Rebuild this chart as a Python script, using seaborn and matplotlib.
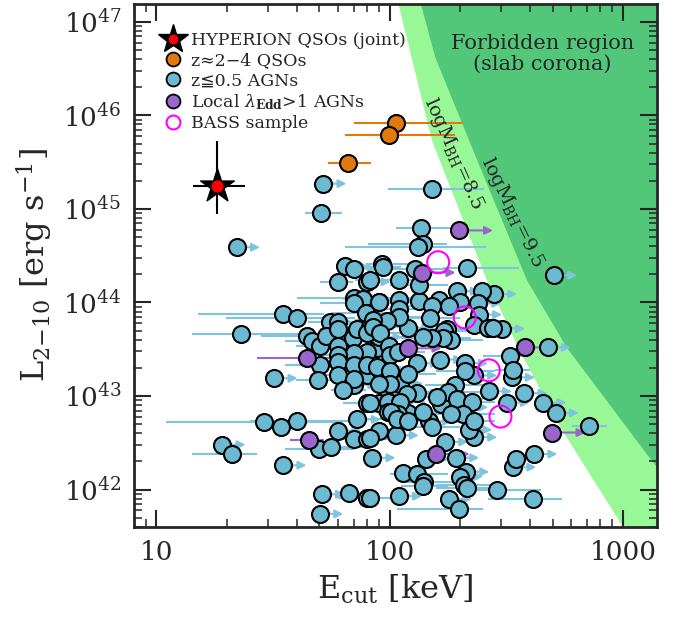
import matplotlib
matplotlib.use("Agg")
import numpy as np
import pandas as pd
import matplotlib.pyplot as plt
import seaborn as sns
from matplotlib.lines import Line2D
from matplotlib.ticker import FuncFormatter

# ---------------- data (log10 Ecut [keV], log10 L2-10 [erg/s]) ----------------
# z<=0.5 AGNs, Ecut lower limits
blue_lim_logE = [1.715, 1.344, 2.704, 1.808, 1.847, 1.904, 2.447, 1.505, 1.282, 1.543,
                 1.708, 1.825, 1.701, 1.862, 1.779, 1.925, 2.425, 2.577, 2.501, 2.658,
                 2.711, 2.025, 2.237, 2.155, 2.284, 2.619, 2.529, 2.039, 2.254, 2.677,
                 2.041, 1.955, 2.126, 2.287, 2.395, 2.379, 2.301, 2.382, 2.079, 2.361,
                 2.480, 2.322, 2.361, 2.115, 2.001, 2.222, 2.361, 2.327, 1.958, 1.744,
                 1.944, 1.843, 1.901, 1.904, 1.955, 1.847, 1.955, 1.904, 1.961, 2.215,
                 2.058, 2.115, 2.322, 2.340, 2.167, 2.044, 2.079, 1.847, 2.523, 2.541,
                 2.301]
blue_lim_logL = [45.27, 44.59, 44.29, 44.39, 44.36, 44.22, 44.09, 43.19, 42.48, 42.26,
                 41.95, 41.96, 41.74, 42.75, 42.63, 42.34, 43.05, 43.03, 42.93, 42.93,
                 42.82, 42.58, 42.51, 42.33, 42.34, 42.38, 42.24, 41.93, 41.90, 43.52,
                 44.24, 44.01, 44.02, 44.12, 44.12, 43.99, 44.00, 43.87, 43.73, 43.76,
                 43.72, 43.35, 43.22, 43.35, 42.93, 42.92, 42.56, 42.19, 43.28, 43.79,
                 43.51, 43.62, 43.32, 43.47, 43.63, 43.12, 42.63, 43.23, 43.14, 43.39,
                 42.18, 43.03, 42.88, 42.64, 42.73, 43.13, 42.82, 43.46, 43.20, 42.33,
                 42.14]

# z<=0.5 AGNs, measured Ecut with error range
blue_logE = [1.705, 2.181, 2.134, 2.141, 2.120, 1.779, 1.543, 1.601, 1.363, 1.462,
             1.604, 1.534, 1.325, 1.904, 2.330, 2.854, 2.458, 2.613, 2.298, 1.847,
             1.886, 1.847, 1.954, 1.897, 1.644, 1.665, 1.701, 1.725, 1.779, 1.779,
             1.858, 1.915, 1.901, 1.779, 1.779, 1.779, 1.701, 1.847, 1.904, 1.779,
             1.691, 1.847, 1.801, 1.961, 1.904, 1.955, 1.994, 1.994, 1.847, 1.904,
             1.698, 1.748, 1.965, 1.972, 2.108, 1.915, 2.126, 2.041, 2.212, 2.254,
             2.180, 2.041, 2.041, 1.987, 2.172, 1.929, 1.929, 1.958, 2.244, 2.232,
             2.265, 2.227, 2.180, 2.144, 2.422, 2.444, 1.998, 2.001, 2.037, 2.322,
             2.518, 2.527, 1.944, 2.001, 2.079, 2.001, 1.955, 2.279, 2.251, 2.201,
             2.075, 2.044, 1.915, 2.289, 2.351, 2.315, 2.265, 2.144, 2.036, 2.004,
             2.030, 2.079, 2.180, 2.361, 1.915, 2.115, 2.147, 2.144, 2.319, 2.330,
             1.915]
blue_logL = [44.96, 45.21, 44.80, 44.63, 44.59, 44.22, 43.88, 43.83, 43.66, 42.72,
             42.73, 42.67, 42.38, 41.91, 44.37, 42.68, 42.00, 41.90, 41.79, 44.05,
             44.04, 43.99, 44.01, 43.89, 43.64, 43.59, 43.53, 43.64, 43.79, 43.72,
             43.72, 43.74, 43.67, 43.53, 43.44, 43.36, 43.33, 43.33, 43.33, 43.23,
             43.17, 43.18, 43.06, 43.26, 42.93, 42.93, 42.94, 42.83, 42.54, 42.54,
             42.43, 42.45, 44.41, 44.38, 44.36, 44.24, 44.19, 44.03, 44.03, 43.96,
             43.96, 43.93, 43.85, 43.80, 43.83, 43.81, 43.74, 43.67, 43.72, 43.69,
             43.60, 43.62, 43.62, 43.63, 43.73, 43.73, 43.53, 43.44, 43.47, 43.27,
             43.43, 43.28, 43.31, 43.27, 43.24, 43.13, 43.13, 43.12, 43.04, 42.99,
             43.02, 42.94, 42.93, 42.97, 42.94, 42.81, 42.81, 42.83, 42.81, 42.83,
             42.75, 42.73, 42.67, 42.73, 42.55, 42.17, 42.08, 42.04, 42.05, 42.02,
             41.91]
blue_lo = [1.636, 1.994, 2.027, 1.908, 1.808, 1.701, 1.179, 1.300, 1.151, 1.043,
           1.400, 1.450, 1.151, 1.779, 2.230, 2.780, 2.300, 2.420, 2.030, 1.601,
           1.800, 1.701, 1.850, 1.750, 1.450, 1.550, 1.600, 1.600, 1.650, 1.700,
           1.750, 1.800, 1.800, 1.650, 1.700, 1.700, 1.550, 1.750, 1.800, 1.700,
           1.600, 1.750, 1.750, 1.850, 1.800, 1.850, 1.900, 1.850, 1.750, 1.800,
           1.550, 1.650, 1.900, 1.900, 2.000, 1.850, 2.000, 1.900, 2.100, 2.150,
           2.050, 1.950, 1.900, 1.900, 2.050, 1.850, 1.850, 1.850, 2.150, 2.100,
           2.150, 2.100, 2.050, 2.000, 2.300, 2.350, 1.900, 1.900, 1.950, 2.200,
           2.400, 2.450, 1.850, 1.900, 1.950, 1.900, 1.850, 2.150, 2.150, 2.100,
           1.950, 1.950, 1.800, 2.200, 2.250, 2.200, 2.150, 2.050, 1.950, 1.900,
           1.900, 2.000, 2.100, 2.250, 1.800, 2.000, 2.050, 2.050, 2.200, 2.200,
           1.800]
blue_hi = [1.794, 2.404, 2.258, 2.244, 2.415, 1.843, 1.720, 1.850, 1.630, 1.800,
           1.900, 1.620, 1.432, 2.000, 2.556, 2.930, 2.650, 2.740, 2.400, 2.100,
           2.050, 2.050, 2.100, 2.050, 1.750, 1.800, 1.850, 1.850, 1.950, 1.900,
           2.000, 2.100, 2.050, 1.900, 1.850, 1.900, 1.800, 1.950, 2.000, 1.900,
           1.800, 1.950, 1.900, 2.100, 2.050, 2.100, 2.150, 2.100, 1.950, 2.050,
           1.850, 1.900, 2.100, 2.050, 2.250, 2.050, 2.250, 2.150, 2.300, 2.350,
           2.300, 2.150, 2.200, 2.100, 2.300, 2.050, 2.000, 2.100, 2.350, 2.350,
           2.400, 2.350, 2.300, 2.300, 2.550, 2.550, 2.100, 2.100, 2.150, 2.450,
           2.600, 2.600, 2.050, 2.150, 2.200, 2.100, 2.050, 2.400, 2.400, 2.300,
           2.200, 2.150, 2.050, 2.400, 2.450, 2.450, 2.400, 2.250, 2.150, 2.150,
           2.150, 2.200, 2.300, 2.450, 2.050, 2.250, 2.300, 2.250, 2.450, 2.450,
           2.050]

# local super-Eddington AGNs
purple_lim_logE = [2.298, 2.137, 2.077, 2.581, 2.198, 2.695]
purple_lim_logL = [44.77, 44.32, 43.51, 43.52, 42.38, 42.61]
purple_logE = [1.644, 1.654]
purple_logL = [43.41, 42.53]
purple_lo = [1.432, 1.572]
purple_hi = [1.858, 1.718]

# z~2-4 QSOs
orange_logE = [2.027, 1.995, 1.821]
orange_logL = [45.92, 45.79, 45.495]
orange_lo = [1.847, 1.808, 1.736]
orange_hi = [2.314, 2.279, 1.918]

# BASS sample
bass_logE = [2.208, 2.322, 2.425, 2.475]
bass_logL = [44.43, 43.84, 43.275, 42.78]

# HYPERION QSOs (joint)
hyp_logE, hyp_logL = 1.259, 45.24
hyp_E_range = [1.157, 1.379]
hyp_L_range = [44.95, 45.73]

# forbidden-region boundaries (slab corona)
bound85_logL = [47.3, 45.73, 44.24, 43.52, 42.67, 41.5]
bound85_logE = [2.025, 2.180, 2.415, 2.549, 2.730, 3.025]
bound95_logL = [47.3, 46.62, 45.44, 44.24, 43.52, 42.24, 41.5]
bound95_logE = [2.120, 2.194, 2.387, 2.587, 2.758, 3.144, 3.370]

# ---------------- style ----------------
sns.set_style("ticks")
plt.rcParams["font.family"] = ["DejaVu Serif", "DejaVu Sans"]
plt.rcParams["mathtext.fontset"] = "dejavuserif"

c_blue = "#6cb9d2"
c_blue_line = "#7fc4dc"
c_purple = "#9966cc"
c_orange = "#e2790c"
c_light = "#98f898"
c_dark = "#52c77a"

fig, ax = plt.subplots(figsize=(6.79, 6.26), dpi=100)
fig.subplots_adjust(left=0.1973, right=0.9676, top=0.9936, bottom=0.1581)
ax.set_xscale("log")
ax.set_yscale("log")
ax.set_xlim(8.01, 1400)
ax.set_ylim(10**41.6, 10**47.19)

# forbidden regions
ax.fill_betweenx(10**np.array(bound85_logL), 10**np.array(bound85_logE), 1e4,
                 color=c_light, lw=0, zorder=0)
ax.fill_betweenx(10**np.array(bound95_logL), 10**np.array(bound95_logE), 1e4,
                 color=c_dark, lw=0, zorder=0)

# error bars
ax.hlines(10**np.array(blue_logL), 10**np.array(blue_lo), 10**np.array(blue_hi),
          color=c_blue_line, lw=1.5, zorder=1)
ax.hlines(10**np.array(purple_logL), 10**np.array(purple_lo), 10**np.array(purple_hi),
          color=c_purple, lw=1.5, zorder=1)
ax.hlines(10**np.array(orange_logL), 10**np.array(orange_lo), 10**np.array(orange_hi),
          color=c_orange, lw=1.5, zorder=1)


def lower_limits(logE, logL, color, length):
    for e, l in zip(logE, logL):
        ax.annotate("", xy=(10**(e + length), 10**l), xytext=(10**e, 10**l),
                    arrowprops=dict(arrowstyle="-|>", color=color, lw=1.5,
                                    mutation_scale=12, shrinkA=0, shrinkB=0),
                    zorder=1)


lower_limits(blue_lim_logE, blue_lim_logL, c_blue_line, 0.10)
lower_limits(purple_lim_logE, purple_lim_logL, c_purple, 0.145)

# markers
blue = pd.DataFrame({"E": 10**np.array(blue_lim_logE + blue_logE),
                     "L": 10**np.array(blue_lim_logL + blue_logL)})
purple = pd.DataFrame({"E": 10**np.array(purple_lim_logE + purple_logE),
                       "L": 10**np.array(purple_lim_logL + purple_logL)})
orange = pd.DataFrame({"E": 10**np.array(orange_logE), "L": 10**np.array(orange_logL)})
bass = pd.DataFrame({"E": 10**np.array(bass_logE), "L": 10**np.array(bass_logL)})

sns.scatterplot(data=blue, x="E", y="L", ax=ax, color=c_blue, edgecolor="black",
                linewidth=1.5, s=150, zorder=3, legend=False)
sns.scatterplot(data=purple, x="E", y="L", ax=ax, color=c_purple, edgecolor="black",
                linewidth=1.5, s=150, zorder=4, legend=False)
sns.scatterplot(data=orange, x="E", y="L", ax=ax, color=c_orange, edgecolor="black",
                linewidth=1.5, s=150, zorder=4, legend=False)
sns.scatterplot(data=bass, x="E", y="L", ax=ax, facecolor="none", edgecolor="magenta",
                linewidth=1.5, s=250, zorder=5, legend=False)

# HYPERION
ax.hlines(10**hyp_logL, 10**hyp_E_range[0], 10**hyp_E_range[1], color="black", lw=1.5, zorder=5)
ax.vlines(10**hyp_logE, 10**hyp_L_range[0], 10**hyp_L_range[1], color="black", lw=1.5, zorder=5)
ax.scatter([10**hyp_logE], [10**hyp_logL], marker="*", s=650, color="black", zorder=6)
ax.scatter([10**hyp_logE], [10**hyp_logL], marker="o", s=60, color="red", zorder=7)

# texts
ax.text(452, 10**46.66, "Forbidden region\n(slab corona)", ha="center", va="center",
        fontsize=15, linespacing=1.1, zorder=8)
ax.text(188, 10**45.59, r"logM$_{\rm BH}$=8.5", rotation=-66, ha="center", va="center",
        fontsize=14, rotation_mode="anchor", zorder=8)
ax.text(335, 10**44.965, r"logM$_{\rm BH}$=9.5", rotation=-64, ha="center", va="center",
        fontsize=14, rotation_mode="anchor", zorder=8)

# legend
h_star = (Line2D([], [], marker="*", color="black", ms=22, ls="none"),
          Line2D([], [], marker="o", color="red", ms=6, ls="none"))
h_orange = Line2D([], [], marker="o", ls="none", ms=10, mfc=c_orange, mec="black", mew=1.3)
h_blue = Line2D([], [], marker="o", ls="none", ms=10, mfc=c_blue, mec="black", mew=1.3)
h_purple = Line2D([], [], marker="o", ls="none", ms=10, mfc=c_purple, mec="black", mew=1.3)
h_bass = Line2D([], [], marker="o", ls="none", ms=10, mfc="none", mec="magenta", mew=1.5)
ax.legend([h_star, h_orange, h_blue, h_purple, h_bass],
          ["HYPERION QSOs (joint)", "z≈2−4 QSOs", "z≦0.5 AGNs",
           r"Local $\lambda_{\mathbf{Edd}}$>1 AGNs", "BASS sample"],
          loc="upper left", bbox_to_anchor=(0.032, 0.97), frameon=False, fontsize=12.5,
          handlelength=1.2, handletextpad=0.4, labelspacing=0.18, borderaxespad=0.3)

# axes
ax.xaxis.set_major_formatter(FuncFormatter(lambda v, p: f"{v:g}"))
ax.tick_params(which="both", direction="in", top=True, right=True)
ax.tick_params(which="major", length=12, width=1.5, labelsize=19, pad=9)
ax.tick_params(which="minor", length=6, width=1.1)
for s in ax.spines.values():
    s.set_linewidth(2)
ax.set_xlabel(r"E$_{\rm cut}$ [keV]", fontsize=23, labelpad=6)
ax.set_ylabel(r"L$_{2{-}10}$ [erg s$^{-1}$]", fontsize=23, labelpad=6)

fig.savefig("out.png", dpi=100)
